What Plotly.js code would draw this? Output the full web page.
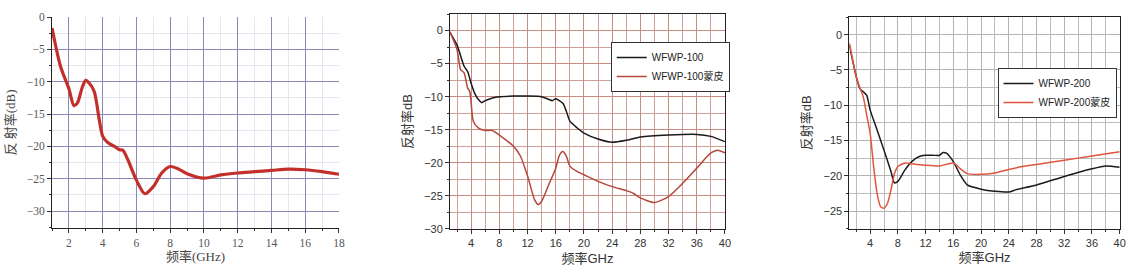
<!DOCTYPE html>
<html><head><meta charset="utf-8">
<script src="https://cdn.plot.ly/plotly-3.0.1.min.js"></script>
<style>html,body{margin:0;padding:0;background:#fff}#c{width:1131px;height:273px}</style>
</head><body><div id="c"></div>
<script>
// Panel 1
const f1 = [1,1.5,2,2.3,2.5,2.8,3,3.2,3.5,3.8,4,4.3,4.7,5,5.2,5.5,6,6.5,7,7.5,8,8.5,9,10,11,12,13,14,15,16,17,18];
const r1 = [-1.7,-7.6,-11.1,-13.7,-13.3,-10.8,-9.8,-10.2,-11.5,-15.9,-18.4,-19.4,-20.0,-20.5,-20.6,-22.1,-25.2,-27.3,-26.2,-24.1,-23.1,-23.5,-24.2,-24.9,-24.4,-24.1,-23.9,-23.7,-23.5,-23.6,-23.9,-24.3];
// Panel 2
const f2a = [1,2,3,3.5,4,4.5,5,5.5,6,7,8,10,12,14,15,15.5,16,17,17.5,18,19,20,22,24,26,28,32,36,38,40];
const wfwp100 = [-0.3,-2.2,-5.4,-6.2,-8.0,-9.5,-10.4,-10.9,-10.6,-10.2,-10.0,-9.9,-9.9,-10.0,-10.4,-10.6,-10.3,-11.0,-12.2,-13.7,-14.7,-15.5,-16.4,-16.9,-16.6,-16.1,-15.8,-15.7,-16.0,-16.8];
const f2b = [1,2,2.5,3,3.5,3.8,4,4.3,5,6,7,8,10,11,12,13,13.5,14,15,16,16.5,17,17.5,18,19,20,22,24,26,27,28,30,32,34,36,38,39,40];
const wfwp100skin = [-0.2,-2.9,-5.9,-6.4,-8.7,-9.2,-11.0,-13.7,-14.7,-15.1,-15.1,-15.8,-17.5,-19.0,-22.0,-25.6,-26.3,-25.8,-23.3,-20.8,-18.9,-18.3,-19.0,-20.5,-21.3,-21.8,-22.8,-23.6,-24.2,-24.6,-25.3,-26.0,-25.1,-23.1,-20.8,-18.5,-18.1,-18.5];
// Panel 3
const f3a = [1,2,2.5,3,3.5,4,5,6,7,7.5,8,9,10,11,12,13,14,14.5,15,16,17,18,20,22,24,25,28,32,36,38,40];
const wfwp200 = [-1.5,-6.0,-7.6,-8.1,-8.6,-10.7,-13.5,-16.4,-19.4,-21.0,-20.8,-19.2,-18.0,-17.3,-17.1,-17.1,-17.1,-16.7,-16.8,-18.0,-19.9,-21.3,-21.9,-22.2,-22.3,-22.0,-21.3,-20.1,-19.0,-18.6,-18.8];
const f3b = [1,2,2.5,3,3.5,4,4.5,5,5.5,6,6.5,7,7.5,8,9,10,12,14,16,17,18,20,22,24,26,28,32,36,40];
const wfwp200skin = [-1.2,-6.0,-7.5,-8.8,-11.4,-14.0,-18.7,-22.5,-24.4,-24.6,-23.9,-22.0,-19.7,-18.7,-18.2,-18.3,-18.5,-18.6,-18.2,-19.0,-19.7,-19.8,-19.6,-19.1,-18.7,-18.4,-17.8,-17.2,-16.6];

const traces = [
  {x:f1,y:r1,xaxis:'x',yaxis:'y',mode:'lines',line:{color:'#c3302b',width:3.2,shape:'spline',smoothing:0.8},showlegend:false},
  {x:f2a,y:wfwp100,xaxis:'x2',yaxis:'y2',mode:'lines',name:'WFWP-100',line:{color:'#1a1a1a',width:1.5,shape:'spline',smoothing:0.6},legend:'legend'},
  {x:f2b,y:wfwp100skin,xaxis:'x2',yaxis:'y2',mode:'lines',name:'WFWP-100蒙皮',line:{color:'#b5473b',width:1.5,shape:'spline',smoothing:0.6},legend:'legend'},
  {x:f3a,y:wfwp200,xaxis:'x3',yaxis:'y3',mode:'lines',name:'WFWP-200',line:{color:'#1a1a1a',width:1.5,shape:'spline',smoothing:0.6},legend:'legend2'},
  {x:f3b,y:wfwp200skin,xaxis:'x3',yaxis:'y3',mode:'lines',name:'WFWP-200蒙皮',line:{color:'#e0553d',width:1.5,shape:'spline',smoothing:0.6},legend:'legend2'}
];

const serif = {family:'"Liberation Serif", "DejaVu Serif", serif', size:11.5, color:'#555'};
const sans = {family:'"Liberation Sans", Arial, sans-serif', size:11, color:'#333'};
const cjkSerif = {family:'"Liberation Serif", "Noto Sans CJK SC", serif', size:13, color:'#444'};
const cjkSans = {family:'"Liberation Sans", "Noto Sans CJK SC", sans-serif', size:13, color:'#333'};

function ax2(dom, range, dtick, mdtick, gc, mgc, font, anchor, extra){
  return Object.assign({domain:dom, range:range, anchor:anchor, dtick:dtick, tick0:0, showgrid:true, gridcolor:gc, gridwidth:1,
    minor:{dtick:mdtick, showgrid:true, gridcolor:mgc, ticks:'outside', ticklen:2, tickcolor:'#333'},
    zeroline:false, showline:true, linecolor:'#222', linewidth:1, ticks:'outside', ticklen:4, tickcolor:'#333', tickfont:font,
    ticklabeloverflow:'allow'}, extra||{});
}

const layout = {
  width:1131, height:273, margin:{l:0,r:0,t:0,b:0}, paper_bgcolor:'#fff', plot_bgcolor:'#fff',
  xaxis: ax2([0.046,0.2997],[1,18],2,1,'#8a88b8','#e6e6f0',serif,'y',{title:{text:'频率(GHz)',font:cjkSerif,standoff:4}}),
  yaxis: ax2([0.1648,0.9377],[-32.6,0],5,2.5,'#8a88b8','#e6e6f0',serif,'x',{title:{text:'反 射率(dB)',font:cjkSerif,standoff:8}}),
  xaxis2: ax2([0.3979,0.641],[1,40],4,2,'#c48d80','#cfa196',sans,'y2',{mirror:true,title:{text:'频率GHz',font:cjkSans,standoff:5}}),
  yaxis2: ax2([0.1612,0.9487],[-30,2.5],5,2.5,'#c48d80','#cfa196',sans,'x2',{mirror:true,title:{text:'反射率dB',font:cjkSans,standoff:8}}),
  xaxis3: ax2([0.7510,0.9900],[1,40],4,2,'#b4b4b4','#bcbcbc',sans,'y3',{mirror:true,title:{text:'频率GHz',font:cjkSans,standoff:5}}),
  yaxis3: ax2([0.1623,0.9377],[-27.5,2.5],5,2.5,'#b4b4b4','#bcbcbc',sans,'x3',{mirror:true,title:{text:'反射率dB',font:cjkSans,standoff:8}}),
  legend:{x:0.540,y:0.846,xanchor:'left',yanchor:'top',bgcolor:'#fff',bordercolor:'#333',borderwidth:1,
    font:{family:'"Liberation Sans","Noto Sans CJK SC",sans-serif',size:10,color:'#222'},tracegroupgap:0,itemwidth:30},
  legend2:{x:0.882,y:0.751,xanchor:'left',yanchor:'top',bgcolor:'#fff',bordercolor:'#333',borderwidth:1,
    font:{family:'"Liberation Sans","Noto Sans CJK SC",sans-serif',size:10,color:'#222'},tracegroupgap:0,itemwidth:30},
  showlegend:true
};
Plotly.newPlot('c', traces, layout, {staticPlot:true, displayModeBar:false});
</script></body></html>
